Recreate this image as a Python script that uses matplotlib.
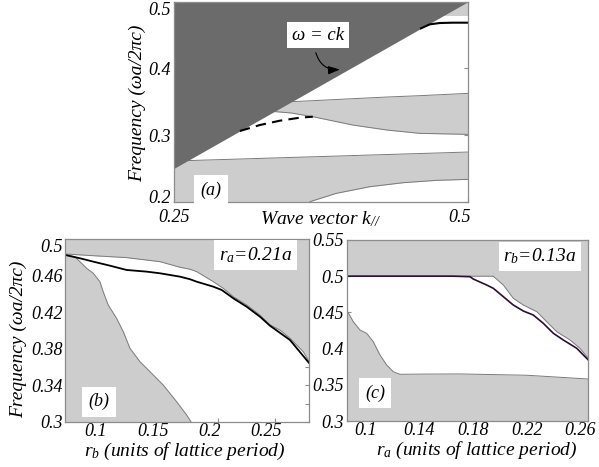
import matplotlib
matplotlib.use("Agg")
import matplotlib.pyplot as plt
from matplotlib.transforms import ScaledTranslation

plt.rcParams['font.family'] = 'serif'
plt.rcParams['font.serif'] = ['Liberation Serif', 'DejaVu Serif']
plt.rcParams['font.style'] = 'italic'
plt.rcParams['mathtext.fontset'] = 'custom'
plt.rcParams['mathtext.rm'] = 'Liberation Serif:italic'
plt.rcParams['mathtext.it'] = 'Liberation Serif:italic'

DARK = '#6b6b6b'
LIGHT = '#cdcdcd'
EDGE = '#7a7a7a'
SPINE = '#8c8c8c'
FS = 13

# ---- panel (a): projected band diagram ----
light_k = [0.25, 0.5]                      # light line w = ck
band1_k = [0.25, 0.3, 0.35, 0.3655, 0.388, 0.4165, 0.445, 0.473, 0.5]
band1_hi = [0.261, 0.2637, 0.2664, 0.2672, 0.2684, 0.27, 0.2715, 0.273, 0.2745]
band1_lo = [0.2, 0.2, 0.2, 0.2, 0.2125, 0.2225, 0.2285, 0.232, 0.2335]
band2_k = [0.33, 0.35, 0.368, 0.402, 0.431, 0.459, 0.5]
band2_hi = [0.349, 0.350, 0.3515, 0.3545, 0.357, 0.359, 0.3625]
band2_lo = [0.336, 0.333, 0.3275, 0.315, 0.3075, 0.3025, 0.301]
band3_k = [0.476, 0.5]
band3_lo = [0.478, 0.478]
guided_dash_k = [0.306, 0.323, 0.34, 0.357, 0.368]
guided_dash_f = [0.306, 0.315, 0.3215, 0.326, 0.3275]
guided_top_k = [0.46, 0.4675, 0.476, 0.487, 0.5]
guided_top_f = [0.46, 0.466, 0.468, 0.4685, 0.4685]
a_xticks = [0.25, 0.5]
a_xlabels = ['0.25', '0.5']
a_yticks = [0.2, 0.3, 0.4, 0.5]
a_ylabels = ['0.2', '0.3', '0.4', '0.5']

# ---- panel (b): gap vs r_b, r_a = 0.21a ----
b_up_x = [0.065, 0.0897, 0.1191, 0.1484, 0.1661, 0.1749, 0.1808, 0.1954, 0.2042,
          0.2130, 0.2248, 0.2365, 0.2454, 0.2542, 0.2630, 0.2747, 0.28]
b_up_f = [0.4836, 0.4817, 0.4796, 0.4752, 0.4691, 0.4669, 0.4643, 0.4533, 0.4461,
          0.4369, 0.4279, 0.4169, 0.4060, 0.4005, 0.3915, 0.3768, 0.3659]
b_mode_x = [0.065, 0.0779, 0.0897, 0.1044, 0.1191, 0.1367, 0.1484, 0.1661, 0.1749,
            0.1808, 0.1954, 0.2028, 0.2130, 0.2248, 0.2365, 0.2454, 0.2630, 0.28]
b_mode_f = [0.4825, 0.4789, 0.4752, 0.4708, 0.4661, 0.4643, 0.4625, 0.4588, 0.4560,
            0.4533, 0.4479, 0.4443, 0.4352, 0.4260, 0.4151, 0.4052, 0.3896, 0.3642]
b_lo_x = [0.065, 0.0735, 0.0779, 0.0838, 0.0897, 0.0955, 0.0984, 0.1028, 0.1102,
          0.1161, 0.1220, 0.1308, 0.1396, 0.1513, 0.1631, 0.1719, 0.1764]
b_lo_f = [0.4825, 0.4806, 0.4752, 0.4680, 0.4625, 0.4533, 0.4424, 0.4279, 0.4133,
          0.3987, 0.3805, 0.3659, 0.3550, 0.3404, 0.3222, 0.3077, 0.299]
b_xticks = [0.1, 0.15, 0.2, 0.25]
b_xlabels = ['0.1', '0.15', '0.2', '0.25']
b_yticks = [0.3, 0.32, 0.34, 0.36, 0.38, 0.40, 0.42, 0.44, 0.46, 0.48, 0.5]
b_ylabels = ['0.3', '', '0.34', '', '0.38', '', '0.42', '', '0.46', '', '0.5']

# ---- panel (c): gap vs r_a, r_b = 0.13a ----
c_up_x = [0.08, 0.1892, 0.1967, 0.2041, 0.2116, 0.2216, 0.2290, 0.2365, 0.2464, 0.2538, 0.26]
c_up_f = [0.5, 0.5, 0.4878, 0.4695, 0.4602, 0.4510, 0.4372, 0.4233, 0.4119, 0.4004, 0.3866]
c_mode_x = [0.08, 0.1594, 0.1719, 0.1743, 0.1843, 0.1892, 0.1967, 0.2041, 0.2116,
            0.2190, 0.2265, 0.2340, 0.2414, 0.2514, 0.26]
c_mode_f = [0.5, 0.5, 0.4993, 0.4961, 0.4878, 0.4833, 0.4717, 0.4602, 0.4519,
            0.4464, 0.4349, 0.4211, 0.4119, 0.4004, 0.3843]
c_lo_x = [0.08, 0.0849, 0.0899, 0.0949, 0.0998, 0.1048, 0.1098, 0.1147, 0.1197,
          0.1371, 0.1644, 0.2141, 0.26]
c_lo_f = [0.4533, 0.4372, 0.4257, 0.4211, 0.4095, 0.3912, 0.3773, 0.3681, 0.3645,
          0.3648, 0.3650, 0.3632, 0.358]
c_xticks = [0.1, 0.14, 0.18, 0.22, 0.26]
c_xlabels = ['0.1', '0.14', '0.18', '0.22', '0.26']
c_yticks = [0.3, 0.35, 0.4, 0.45, 0.5, 0.55]
c_ylabels = ['0.3', '0.35', '0.4', '0.45', '0.5', '0.55']

fig = plt.figure(figsize=(5.99, 4.67), dpi=100)
box = dict(boxstyle='square,pad=0.25', fc='white', ec='none')
tagbox = dict(boxstyle='square,pad=0.35', fc='white', ec='none')


def style(ax):
    ax.set_axisbelow(True)
    for s in ax.spines.values():
        s.set_color(SPINE)
        s.set_linewidth(0.9)
        s.set_zorder(5)
    ax.tick_params(direction='in', length=3, width=0.8, color=SPINE,
                   top=True, right=True, labelsize=FS, pad=2)
    ax.tick_params(axis='x', pad=1)


def shift(label, dx_px, dy_px):
    off = ScaledTranslation(dx_px / 100.0, dy_px / 100.0, fig.dpi_scale_trans)
    label.set_transform(label.get_transform() + off)


# (a)
ax1 = fig.add_axes([0.2905, 0.5681, 0.4908, 0.4283])
style(ax1)
ax1.tick_params(axis='x', pad=5)
ax1.set_xlim(0.25, 0.5)
ax1.set_ylim(0.2, 0.5)
ytop = ax1.get_ylim()[1]
ax1.fill_between(band1_k, band1_lo, band1_hi, color=LIGHT, lw=0, zorder=1)
ax1.plot(band1_k, band1_hi, color=EDGE, lw=0.7, zorder=1.5)
ax1.plot(band1_k[3:], band1_lo[3:], color=EDGE, lw=0.7, zorder=1.5)
ax1.fill_between(band2_k, band2_lo, band2_hi, color=LIGHT, lw=0, zorder=1)
ax1.plot(band2_k, band2_hi, color=EDGE, lw=0.7, zorder=1.5)
ax1.plot(band2_k, band2_lo, color=EDGE, lw=0.7, zorder=1.5)
ax1.fill_between(band3_k, band3_lo, ytop, color=LIGHT, lw=0, zorder=1)
ax1.fill_between(light_k, light_k, ytop, color=DARK, lw=0, zorder=2)
ax1.plot(guided_dash_k, guided_dash_f, color='black', lw=1.5, ls=(0, (5, 3)), zorder=3)
ax1.plot(guided_top_k, guided_top_f, color='black', lw=1.5, zorder=3)
ax1.set_xticks(a_xticks)
ax1.set_xticklabels(a_xlabels)
ax1.set_yticks(a_yticks)
ax1.set_yticklabels(a_ylabels)
ax1.get_yticklabels()[-1].set_va('top')
shift(ax1.get_yticklabels()[0], 0, 5)
shift(ax1.get_xticklabels()[-1], -8, 0)
ax1.set_xlabel(r'Wave vector $k_{//}$', fontsize=FS + 1, va='center')
ax1.xaxis.set_label_coords(0.5, -0.085)
ax1.set_ylabel('Frequency (ωa/2πc)', fontsize=FS + 1, va='center')
ax1.yaxis.set_label_coords(-0.126, 0.49)
ax1.annotate('', xy=(0.3934, 0.3986), xytext=(0.37, 0.4275),
             arrowprops=dict(arrowstyle='-|>,head_length=0.7,head_width=0.25',
                             connectionstyle='arc3,rad=0.45', color='black', lw=0.8),
             zorder=6)
ax1.text(0.3724, 0.45, 'ω = ck', fontsize=FS + 0.5, ha='center', va='center',
         bbox=box, zorder=6)
ax1.text(0.2815, 0.2175, '(a)', fontsize=FS, ha='center', va='center',
         bbox=tagbox, zorder=6)

# (b)
ax2 = fig.add_axes([0.1090, 0.0964, 0.4073, 0.3919])
style(ax2)
ax2.set_xlim(0.065, 0.28)
ax2.set_ylim(0.3, 0.5)
ytop = ax2.get_ylim()[1]
ybot = ax2.get_ylim()[0]
ax2.fill_between(b_up_x, b_up_f, ytop, color=LIGHT, lw=0, zorder=1)
ax2.fill_between(b_lo_x, ybot, b_lo_f, color=LIGHT, lw=0, zorder=1)
ax2.plot(b_up_x, b_up_f, color=EDGE, lw=0.7, zorder=1.5)
ax2.plot(b_lo_x, b_lo_f, color=EDGE, lw=0.7, zorder=1.5)
ax2.plot(b_mode_x, b_mode_f, color='black', lw=1.3, zorder=3)
ax2.set_xticks(b_xticks)
ax2.set_xticklabels(b_xlabels)
ax2.set_yticks(b_yticks)
ax2.set_yticklabels(b_ylabels)
ax2.get_yticklabels()[-1].set_va('top')
for lab in ax2.get_xticklabels():
    shift(lab, -9, 0)
ax2.set_xlabel(r'$r_b$ (units of lattice period)', fontsize=FS + 1, va='center')
ax2.xaxis.set_label_coords(0.49, -0.163)
ax2.set_ylabel('Frequency (ωa/2πc)', fontsize=FS + 1, va='center')
ax2.yaxis.set_label_coords(-0.194, 0.454)
ax2.text(0.233, 0.4825, r'$r_a$=0.21a', fontsize=FS + 1, ha='center', va='center',
         bbox=box, zorder=6)
ax2.text(0.0947, 0.3222, '(b)', fontsize=FS, ha='center', va='center',
         bbox=tagbox, zorder=6)

# (c)
ax3 = fig.add_axes([0.5788, 0.0985, 0.4033, 0.3876])
style(ax3)
ax3.set_xlim(0.08, 0.26)
ax3.set_ylim(0.3, 0.55)
ytop = ax3.get_ylim()[1]
ybot = ax3.get_ylim()[0]
ax3.fill_between(c_up_x, c_up_f, ytop, color=LIGHT, lw=0, zorder=1)
ax3.fill_between(c_lo_x, ybot, c_lo_f, color=LIGHT, lw=0, zorder=1)
ax3.plot(c_up_x, c_up_f, color=EDGE, lw=0.7, zorder=1.5)
ax3.plot(c_lo_x, c_lo_f, color=EDGE, lw=0.7, zorder=1.5)
ax3.plot(c_mode_x, c_mode_f, color='#2a0f35', lw=1.2, zorder=3)
ax3.set_xticks(c_xticks)
ax3.set_xticklabels(c_xlabels)
ax3.set_yticks(c_yticks)
ax3.set_yticklabels(c_ylabels)
for lab in ax3.get_xticklabels():
    shift(lab, -8, 0)
ax3.set_xlabel(r'$r_a$ (units of lattice period)', fontsize=FS + 1, va='center')
ax3.xaxis.set_label_coords(0.54, -0.163)
ax3.text(0.224, 0.527, r'$r_b$=0.13a', fontsize=FS + 1, ha='center', va='center',
         bbox=box, zorder=6)
ax3.text(0.1011, 0.3383, '(c)', fontsize=FS, ha='center', va='center',
         bbox=tagbox, zorder=6)

fig.savefig('out.png', dpi=100)
